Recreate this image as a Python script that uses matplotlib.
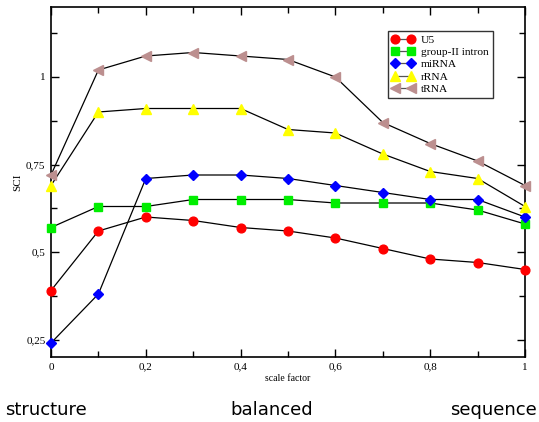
import matplotlib
import numpy as np

matplotlib.use('Agg')
from matplotlib import pyplot as plt
from matplotlib.ticker import MultipleLocator, FuncFormatter

scale = [0.0, 0.1, 0.2, 0.3, 0.4, 0.5, 0.6, 0.7, 0.8, 0.9, 1.0]

u5 = [0.39, 0.56, 0.60, 0.59, 0.57, 0.56, 0.54, 0.51, 0.48, 0.47, 0.45]
group_ii = [0.57, 0.63, 0.63, 0.65, 0.65, 0.65, 0.64, 0.64, 0.64, 0.62, 0.58]
mirna = [0.24, 0.38, 0.71, 0.72, 0.72, 0.71, 0.69, 0.67, 0.65, 0.65, 0.60]
rrna = [0.69, 0.90, 0.91, 0.91, 0.91, 0.85, 0.84, 0.78, 0.73, 0.71, 0.63]
trna = [0.72, 1.02, 1.06, 1.07, 1.06, 1.05, 1.00, 0.87, 0.81, 0.76, 0.69]

names = ["U5", "group-II intron", "miRNA", "rRNA", "tRNA"]
bottom_labels = ["structure", "balanced", "sequence"]

serif = "Liberation Serif"


def comma_fmt(v, pos):
    s = ("%.2f" % v).rstrip('0').rstrip('.')
    return s.replace('.', ',')


fig = plt.figure(figsize=(5.39, 4.22), dpi=100, facecolor="white")
ax = fig.add_axes([51 / 539, 1 - 357 / 422, 474 / 539, 350 / 422])

styles = [
    (u5, 'o', '#ff0000', 6.3),
    (group_ii, 's', '#00ee00', 5.3),
    (mirna, 'D', '#0000ff', 4.6),
    (rrna, '^', '#ffff00', 6.5),
    (trna, '<', '#bc8f8f', 6.8),
]
for (vals, marker, color, ms), name in zip(styles, names):
    ax.plot(scale, vals, color='black', linewidth=0.9, marker=marker,
            markersize=ms, markerfacecolor=color, markeredgecolor=color,
            label=name, clip_on=False, zorder=3)

ax.set_xlim(0, 1)
ax.set_ylim(0.2, 1.2)
ax.xaxis.set_major_locator(MultipleLocator(0.2))
ax.xaxis.set_minor_locator(MultipleLocator(0.1))
ax.yaxis.set_major_locator(MultipleLocator(0.25))
ax.yaxis.set_minor_locator(MultipleLocator(0.125))
ax.xaxis.set_major_formatter(FuncFormatter(comma_fmt))
ax.yaxis.set_major_formatter(FuncFormatter(comma_fmt))
ax.tick_params(which='both', direction='in', top=True, right=True, width=1)
ax.tick_params(which='major', length=6, labelsize=8, pad=4)
ax.tick_params(which='minor', length=4)
for lab in ax.get_xticklabels() + ax.get_yticklabels():
    lab.set_fontfamily(serif)
for sp in ax.spines.values():
    sp.set_linewidth(1.2)

ax.set_xlabel("scale factor", fontfamily=serif, fontsize=7, labelpad=2)
ax.set_ylabel("SCI", fontfamily=serif, fontsize=8, labelpad=3)

leg = ax.legend(loc='upper left', bbox_to_anchor=(337 / 474, 1 - 24 / 350),
                numpoints=2, prop={'family': serif, 'size': 8.2},
                frameon=True, fancybox=False, handlelength=2.0,
                handletextpad=0.55, labelspacing=0.2, borderpad=0.35,
                borderaxespad=0)
leg.get_frame().set_edgecolor('black')
leg.get_frame().set_linewidth(1)
for line in leg.get_lines():
    line.set_color('#555555')

fig.text(5 / 539, 1 - 410 / 422, bottom_labels[0], ha='left', va='center',
         fontsize=13, fontfamily='DejaVu Sans')
fig.text(272 / 539, 1 - 410 / 422, bottom_labels[1], ha='center', va='center',
         fontsize=13, fontfamily='DejaVu Sans')
fig.text(537 / 539, 1 - 410 / 422, bottom_labels[2], ha='right', va='center',
         fontsize=13, fontfamily='DejaVu Sans')

fig.savefig("out.png", dpi=100, facecolor="white")
